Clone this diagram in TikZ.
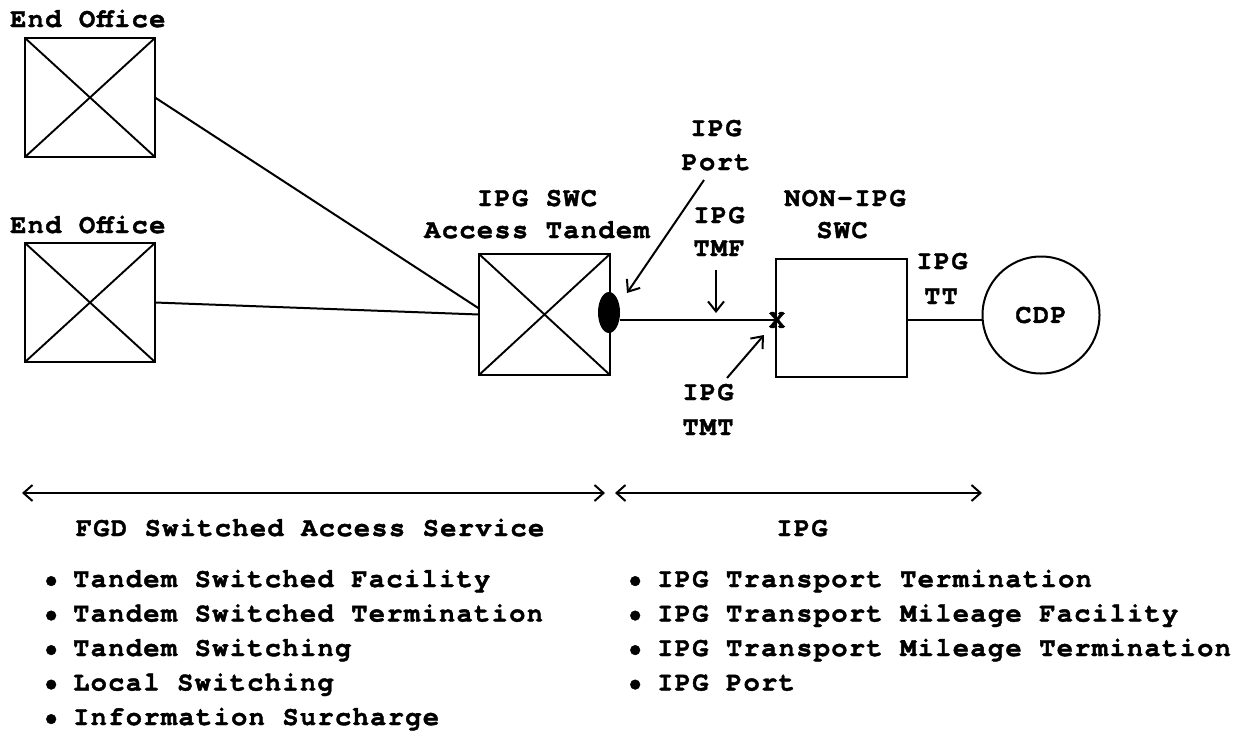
\documentclass[tikz,border=0pt]{standalone}
\usepackage{fontspec}
\usetikzlibrary{arrows.meta,shapes.geometric}
\newfontfamily\cour[Extension=.otf,LetterSpace=5,FakeBold=1.5]{texgyrecursor-bold}
\begin{document}
\begin{tikzpicture}[x=1pt,y=-1pt,
  xbox/.style={draw, line width=2.1pt, outer sep=0pt, inner sep=0pt},
  lbl/.style={font=\cour\fontsize{27}{33}\selectfont, inner sep=0pt, anchor=base},
  lbll/.style={font=\cour\fontsize{27}{33}\selectfont, inner sep=0pt, anchor=base west},
  wire/.style={line width=2pt},
  arr/.style={line width=2pt, -{Straight Barb[length=10pt,width=16pt]}},
  darr/.style={line width=2pt, {Straight Barb[length=9pt,width=16pt]}-{Straight Barb[length=9pt,width=16pt]}}]
\path[use as bounding box] (0,0) rectangle (1241,731);

% boxes
\node[xbox, minimum width=130pt, minimum height=119pt] (eo1) at (90,97.5) {};
\node[xbox, minimum width=130pt, minimum height=119pt] (eo2) at (90,302.5) {};
\node[xbox, minimum width=131pt, minimum height=121pt] (tan) at (544.5,314.5) {};
\node[xbox, minimum width=131pt, minimum height=118pt] (non) at (841.5,318) {};
\node[circle, draw, line width=2pt, minimum size=117pt, inner sep=0pt, outer sep=0pt,
      font=\cour\fontsize{27}{33}\selectfont] (cdp) at (1041,315) {CDP};
\foreach \b in {eo1,eo2,tan}{
  \draw[line width=1.9pt] (\b.north west) -- (\b.south east) (\b.north east) -- (\b.south west);
}
\node[ellipse, fill, minimum width=22pt, minimum height=41pt, inner sep=0pt, outer sep=0pt] (port) at (609,312.5) {};
\node[font=\cour\fontsize{27}{33}\selectfont, inner sep=0pt] (xm) at (777,320) {X};

% labels
\node[lbll] (eo1t) at (10,27) {End Office};
\node[lbll] (eo2t) at (10,233) {End Office};
\node[lbl] (tanA) at (537,206) {IPG SWC};
\node[lbl] (tanB) at (537,238) {Access Tandem};
\node[lbl] (nonA) at (845,206) {NON-IPG};
\node[lbl] (nonB) at (842,238) {SWC};
\node[lbl] (portA) at (716,136) {IPG};
\node[lbl] (portB) at (716,170) {Port};
\node[lbl] (tmfA) at (719,223) {IPG};
\node[lbl] (tmfB) at (719,256) {TMF};
\node[lbl] (tmtA) at (708,400) {IPG};
\node[lbl] (tmtB) at (708,435) {TMT};
\node[lbl] (ttA) at (942,269) {IPG};
\node[lbl] (ttB) at (941,304) {TT};

% connectors
\draw[wire] (eo1.east) -- ([yshift=6pt]tan.west);
\draw[wire] (eo2.east) -- (tan.west);
\draw[wire] (port.east |- xm) -- (xm.center);
\draw[wire] (non.east |- xm) -- (cdp.west |- xm);

\coordinate (pa) at (704,180); \coordinate (pb) at (627,293);
\draw[arr] (pa) -- (pb);
\coordinate (fa) at (716,270); \coordinate (fb) at (716,313);
\draw[arr] (fa) -- (fb);
\coordinate (ta) at (727,378); \coordinate (tb) at (764,335);
\draw[arr] (ta) -- (tb);

% spans
\coordinate (s1a) at (22,493); \coordinate (s1b) at (605,493);
\coordinate (s2a) at (615,493); \coordinate (s2b) at (982,493);
\draw[darr] (s1a) -- (s1b);
\draw[darr] (s2a) -- (s2b);
\node[lbl] (fgd) at (310,536) {FGD Switched Access Service};
\node[lbl] (ipg) at (802,536) {IPG};

% lists
\node[lbll] (l1) at (29,587) {\makebox[44pt][c]{•}Tandem Switched Facility};
\node[lbll] (l2) at (29,621.5) {\makebox[44pt][c]{•}Tandem Switched Termination};
\node[lbll] (l3) at (29,656) {\makebox[44pt][c]{•}Tandem Switching};
\node[lbll] (l4) at (29,690.5) {\makebox[44pt][c]{•}Local Switching};
\node[lbll] (l5) at (29,725) {\makebox[44pt][c]{•}Information Surcharge};
\node[lbll] (r1) at (613,587) {\makebox[44pt][c]{•}IPG Transport Termination};
\node[lbll] (r2) at (613,621.5) {\makebox[44pt][c]{•}IPG Transport Mileage Facility};
\node[lbll] (r3) at (613,656) {\makebox[44pt][c]{•}IPG Transport Mileage Termination};
\node[lbll] (r4) at (613,690.5) {\makebox[44pt][c]{•}IPG Port};
\end{tikzpicture}
\end{document}
